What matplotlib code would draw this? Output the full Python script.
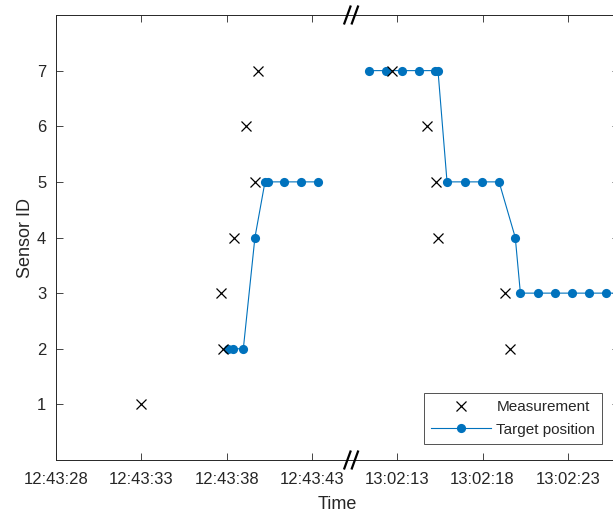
import matplotlib
matplotlib.use("Agg")
import matplotlib.pyplot as plt
import numpy as np

plt.rcParams['font.family'] = ['Liberation Sans', 'DejaVu Sans']

# ---- data ----
meas_times = ["12:43:33.00", "12:43:37.67", "12:43:37.81", "12:43:38.45", "12:43:39.12",
              "12:43:39.66", "12:43:39.82", "13:02:12.71", "13:02:14.76", "13:02:15.29",
              "13:02:15.37", "13:02:19.34", "13:02:19.63"]
meas_ids = [1, 3, 2, 4, 6, 5, 7, 7, 6, 5, 4, 3, 2]

target_times_1 = ["12:43:38.11", "12:43:38.38", "12:43:38.98", "12:43:39.66", "12:43:40.25",
                  "12:43:40.43", "12:43:41.35", "12:43:42.34", "12:43:43.34"]
target_ids_1 = [2, 2, 2, 4, 5, 5, 5, 5, 5]

target_times_2 = ["13:02:11.35", "13:02:12.34", "13:02:13.26", "13:02:14.28", "13:02:15.22",
                  "13:02:15.39", "13:02:15.92", "13:02:16.96", "13:02:17.97", "13:02:18.97",
                  "13:02:19.92", "13:02:20.22", "13:02:21.24", "13:02:22.23", "13:02:23.23",
                  "13:02:24.22", "13:02:25.22", "13:02:26.22"]
target_ids_2 = [7, 7, 7, 7, 7, 7, 5, 5, 5, 5, 4, 3, 3, 3, 3, 3, 3, 3]

tick_labels = ["12:43:28", "12:43:33", "12:43:38", "12:43:43", "13:02:13", "13:02:18", "13:02:23"]

# broken time axis: segment starts and their positions on the compressed axis
seg_starts = ["12:43:28", "13:02:13"]
seg_offsets = [0.0, 20.0]
break_pos = 17.3


def secs(s):
    h, m, sec = s.split(":")
    return int(h) * 3600 + int(m) * 60 + float(sec)


def to_axis(s):
    v = secs(s)
    starts = [secs(x) for x in seg_starts]
    idx = 0 if abs(v - starts[0]) < abs(v - starts[1]) else 1
    return seg_offsets[idx] + (v - starts[idx])


mx = [to_axis(t) for t in meas_times]
tx = [to_axis(t) for t in target_times_1] + [np.nan] + [to_axis(t) for t in target_times_2]
ty = target_ids_1 + [np.nan] + target_ids_2
tick_pos = [to_axis(t) for t in tick_labels]

W, H = 613, 515
fig = plt.figure(figsize=(W / 100, H / 100), dpi=100)
ax = fig.add_axes([56 / W, 55 / H, (619 - 56) / W, 445 / H])

blue = '#0072BD'
dark = '#262626'
ax.plot(mx, meas_ids, linestyle='none', marker='x', color='black', markersize=7,
        markeredgewidth=0.9, label='Measurement', zorder=3)
ax.plot(tx, ty, color=blue, linewidth=0.8, marker='o', markersize=6.6,
        markeredgewidth=0, label='Target position', zorder=2)

ax.set_xlim(0, 33)
ax.set_ylim(0, 8)
ax.set_xticks(tick_pos)
ax.set_xticklabels(tick_labels)
ax.set_yticks([1, 2, 3, 4, 5, 6, 7])
ax.tick_params(direction='in', length=5, width=0.6, colors=dark, labelsize=12,
               top=True, right=True)
ax.tick_params(axis='x', pad=9)
ax.tick_params(axis='y', pad=7)
for sp in ax.spines.values():
    sp.set_color(dark)
    sp.set_linewidth(0.7)

ax.set_xlabel('Time', fontsize=13, color=dark, labelpad=6)
ax.set_ylabel('Sensor ID', fontsize=13, color=dark, labelpad=2)

# break marks
trans = ax.get_xaxis_transform()
for yb in (0.0, 1.0):
    for dx in (-0.22, 0.22):
        ax.plot([break_pos + dx - 0.18, break_pos + dx + 0.18], [yb - 0.019, yb + 0.019],
                transform=trans, color='black', linewidth=1.6, clip_on=False, zorder=5)

leg = ax.legend(loc='lower right', bbox_to_anchor=(602 / W, (515 - 443.5) / H),
                bbox_transform=fig.transFigure, borderaxespad=0, fontsize=11,
                handlelength=3.9, handletextpad=0.35, borderpad=0.45, labelspacing=0.55,
                frameon=True, fancybox=False, edgecolor=dark)
leg.get_frame().set_linewidth(0.7)
for t in leg.get_texts():
    t.set_color(dark)

fig.savefig('out.png', dpi=100)
